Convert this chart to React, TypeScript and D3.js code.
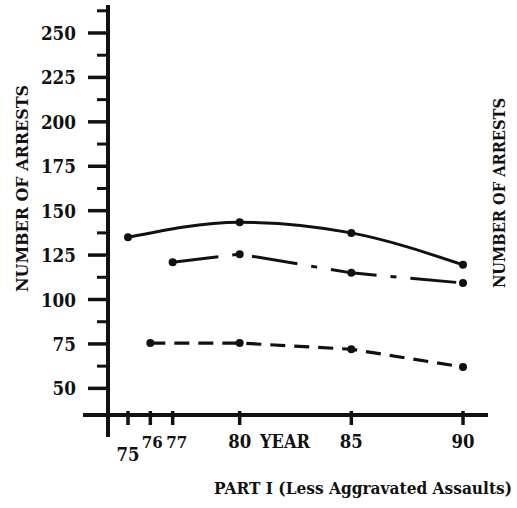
import React from "react";
import * as d3 from "d3";

// ---- data ----
const yTickValues = [50, 75, 100, 125, 150, 175, 200, 225, 250];
const yMinorTickValues = [62.5, 87.5, 112.5, 137.5, 162.5, 187.5, 212.5, 237.5, 262.5];
const xTickValues = [75, 76, 77, 80, 85, 90];
const xTickLabels = ["75", "76", "77", "80", "85", "90"];

const solidYears = [75, 80, 85, 90];
const solidValues = [135, 143.5, 137.5, 119.5];

const dashDotYears = [77, 80, 85, 90];
const dashDotValues = [121, 125.5, 115, 109.3];

const dashedYears = [76, 80, 85, 90];
const dashedValues = [75.5, 75.5, 72, 62];

const yTitle = "NUMBER OF ARRESTS";
const xTitle = "YEAR";
const caption = "PART I (Less Aggravated Assaults)";

const FONT = "'DejaVu Serif', 'Liberation Serif', serif";
const INK = "#111";

export default function App() {
  const x = d3.scaleLinear().domain([75, 90]).range([128, 463]);
  const y = d3.scaleLinear().domain([35, 250]).range([415, 33]);

  const curved = d3
    .line<[number, number]>()
    .x((d) => x(d[0]))
    .y((d) => y(d[1]))
    .curve(d3.curveMonotoneX);
  const straight = d3
    .line<[number, number]>()
    .x((d) => x(d[0]))
    .y((d) => y(d[1]));

  const solid = solidYears.map((yr, i) => [yr, solidValues[i]] as [number, number]);
  const dashDot = dashDotYears.map((yr, i) => [yr, dashDotValues[i]] as [number, number]);
  const dashed = dashedYears.map((yr, i) => [yr, dashedValues[i]] as [number, number]);

  const axisX = x(75) - 20; // y axis position
  const axisY = y(35);

  return (
    <svg
      width={517}
      height={508}
      style={{ position: "absolute", left: 0, top: 0, background: "#fff" }}
    >
      <rect x={0} y={0} width={517} height={508} fill="#fff" />
      {/* y axis */}
      <line x1={axisX} x2={axisX} y1={5} y2={437} stroke={INK} strokeWidth={4} />
      {yTickValues.map((v) => (
        <g key={"yt" + v}>
          <line x1={axisX - 20} x2={axisX} y1={y(v)} y2={y(v)} stroke={INK} strokeWidth={3.5} />
          <text
            x={76}
            y={y(v) + 7}
            textAnchor="end"
            fontFamily={FONT}
            fontWeight="bold"
            fontSize={18}
            textLength={String(v).length * 11.7}
            lengthAdjust="spacingAndGlyphs"
            fill={INK}
          >
            {v}
          </text>
        </g>
      ))}
      {yMinorTickValues.map((v) => (
        <line
          key={"ym" + v}
          x1={axisX - 11}
          x2={axisX}
          y1={y(v)}
          y2={y(v)}
          stroke={INK}
          strokeWidth={3}
        />
      ))}
      {/* x axis */}
      <line x1={83} x2={488} y1={axisY} y2={axisY} stroke={INK} strokeWidth={4} />
      {xTickValues.map((v, i) => {
        const lx = x(v) + (v === 76 ? 2 : v === 77 ? 4 : 0);
        const ly = v === 75 ? 461 : 448;
        const narrow = v === 76 || v === 77;
        return (
          <g key={"xt" + v}>
            <line x1={x(v)} x2={x(v)} y1={axisY - 4} y2={axisY + 10} stroke={INK} strokeWidth={3.5} />
            <text
              x={lx}
              y={ly}
              textAnchor="middle"
              fontFamily={FONT}
              fontWeight="bold"
              fontSize={narrow ? 16 : 18}
              textLength={narrow ? 21 : 23}
              lengthAdjust="spacingAndGlyphs"
              fill={INK}
            >
              {xTickLabels[i]}
            </text>
          </g>
        );
      })}
      <text
        x={260}
        y={448}
        fontFamily={FONT}
        fontWeight="bold"
        fontSize={18}
        textLength={50}
        lengthAdjust="spacingAndGlyphs"
        fill={INK}
      >
        {xTitle}
      </text>
      {/* titles */}
      <text
        transform={`translate(28,188.5) rotate(-90)`}
        textAnchor="middle"
        fontFamily={FONT}
        fontWeight="bold"
        fontSize={17}
        textLength={207}
        lengthAdjust="spacingAndGlyphs"
        fill={INK}
      >
        {yTitle}
      </text>
      <text
        transform={`translate(505,193) rotate(-90)`}
        textAnchor="middle"
        fontFamily={FONT}
        fontWeight="bold"
        fontSize={16}
        textLength={190}
        lengthAdjust="spacingAndGlyphs"
        fill={INK}
      >
        {yTitle}
      </text>
      <text
        transform="translate(214,494) scale(1,1.2)"
        x={0}
        y={0}
        fontFamily={FONT}
        fontWeight="bold"
        fontSize={14.5}
        textLength={298}
        lengthAdjust="spacingAndGlyphs"
        fill={INK}
      >
        {caption}
      </text>
      {/* series */}
      <path d={curved(solid) || ""} fill="none" stroke={INK} strokeWidth={3} />
      <path
        d={straight(dashDot) || ""}
        fill="none"
        stroke={INK}
        strokeWidth={3}
        strokeDasharray="46 14 6 14"
      />
      <path
        d={straight(dashed) || ""}
        fill="none"
        stroke={INK}
        strokeWidth={3.2}
        strokeDasharray="15 9"
      />
      {[solid, dashDot, dashed].map((s, si) =>
        s.map((d, i) => (
          <circle key={si + "-" + i} cx={x(d[0])} cy={y(d[1])} r={4} fill={INK} />
        ))
      )}
    </svg>
  );
}
